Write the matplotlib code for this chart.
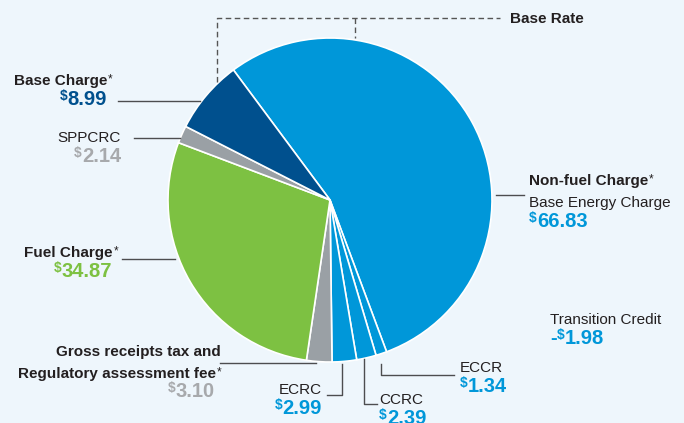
import matplotlib.pyplot as plt

plt.rcParams['font.family'] = ['Liberation Sans', 'DejaVu Sans']

# bill components, clockwise from the top
labels = ['Base Energy Charge', 'ECCR', 'CCRC', 'ECRC',
          'Gross receipts tax and Regulatory assessment fee',
          'Fuel Charge', 'SPPCRC', 'Base Charge']
values = [66.83, 1.34, 2.39, 2.99, 3.10, 34.87, 2.14, 8.99]
transition_credit = -1.98

LIGHT = '#0097d9'
DARK = '#00508e'
GREEN = '#7dc142'
GRAY = '#9aa0a5'
colors = [LIGHT, LIGHT, LIGHT, LIGHT, GRAY, GREEN, GRAY, DARK]

TXT = '#231f20'
BG = '#eef6fc'
H = 423

fig = plt.figure(figsize=(6.84, 4.23), dpi=100, facecolor=BG)
ax = fig.add_axes([0, 0, 1, 1])
ax.set_facecolor(BG)

ax.pie(values, colors=colors, startangle=126.6, counterclock=False,
       center=(330, H - 200), radius=162,
       wedgeprops=dict(edgecolor='white', linewidth=1.2))
ax.set_xlim(0, 684)
ax.set_ylim(0, H)
ax.set_aspect('equal')
ax.set_axis_off()

renderer = fig.canvas.get_renderer()


def y(p):
    return H - p


def txt(x, yb, s, ha='left', bold=False, size=11, color=TXT):
    return ax.text(x, y(yb), s, ha=ha, va='baseline', fontsize=size,
                   fontweight='bold' if bold else 'normal', color=color)


def star_label(x, yb, s, ha='left'):
    # bold label followed by a small raised asterisk
    if ha == 'left':
        t = txt(x, yb, s, bold=True)
        w = t.get_window_extent(renderer).width
        txt(x + w + 0.5, yb - 3, '*', size=8.5)
    else:
        t = txt(x, yb - 3, '*', ha='right', size=8.5)
        w = t.get_window_extent(renderer).width
        txt(x - w - 0.5, yb, s, ha='right', bold=True)


def money(x, yb, value, color, ha='left'):
    num = f'{abs(value):.2f}'
    neg = value < 0
    if ha == 'left':
        cur = x
        if neg:
            t = txt(cur, yb, '-', bold=True, size=14.5, color=color)
            cur += t.get_window_extent(renderer).width
        t = txt(cur, yb - 5, r'\$', bold=True, size=10, color=color)
        cur += t.get_window_extent(renderer).width
        txt(cur, yb, num, bold=True, size=14.5, color=color)
    else:
        t = txt(x, yb, num, ha='right', bold=True, size=14.5, color=color)
        w = t.get_window_extent(renderer).width
        txt(x - w, yb - 5, r'\$', ha='right', bold=True, size=10, color=color)


def line(xs, ys, color='#4d4d4f', **kw):
    ax.plot(xs, [y(v) for v in ys], color=color, lw=1, **kw)


# Base Rate bracket
line([217, 217, 500], [82, 18, 18], ls=(0, (4, 2.5)), color='#555555')
line([355, 355], [18, 38], ls=(0, (4, 2.5)), color='#555555')
txt(510, 23, 'Base Rate', bold=True)

# Base Charge
star_label(112, 85, 'Base Charge', ha='right')
money(107, 105, values[7], DARK, ha='right')
line([118, 200], [101, 101])

# SPPCRC
txt(121, 142, 'SPPCRC', ha='right')
money(121, 162, values[6], '#a7a9ac', ha='right')
line([134, 180], [138, 138])

# Fuel Charge
star_label(118, 257, 'Fuel Charge', ha='right')
money(112, 277, values[5], GREEN, ha='right')
line([122, 175], [259, 259])

# Gross receipts
txt(221, 356, 'Gross receipts tax and', ha='right', bold=True)
star_label(221, 378, 'Regulatory assessment fee', ha='right')
money(215, 397, values[4], '#a7a9ac', ha='right')
line([220, 316], [363, 363])

# ECRC
txt(322, 394, 'ECRC', ha='right')
money(322, 414, values[3], LIGHT, ha='right')
line([327, 342, 342], [395, 395, 364])

# CCRC
txt(379, 404, 'CCRC')
money(379, 424, values[2], LIGHT)
line([364, 364, 377], [359, 404, 404])

# ECCR
txt(460, 372, 'ECCR')
money(460, 392, values[1], LIGHT)
line([381, 381, 454], [364, 375, 375])

# Non-fuel / Base Energy Charge
star_label(529, 185, 'Non-fuel Charge')
txt(529, 207, 'Base Energy Charge')
money(529, 227, values[0], LIGHT)
line([496, 524], [195, 195])

# Transition credit
txt(550, 324, 'Transition Credit')
money(550, 344, transition_credit, LIGHT)

fig.savefig('out.png', dpi=100, facecolor=BG)
